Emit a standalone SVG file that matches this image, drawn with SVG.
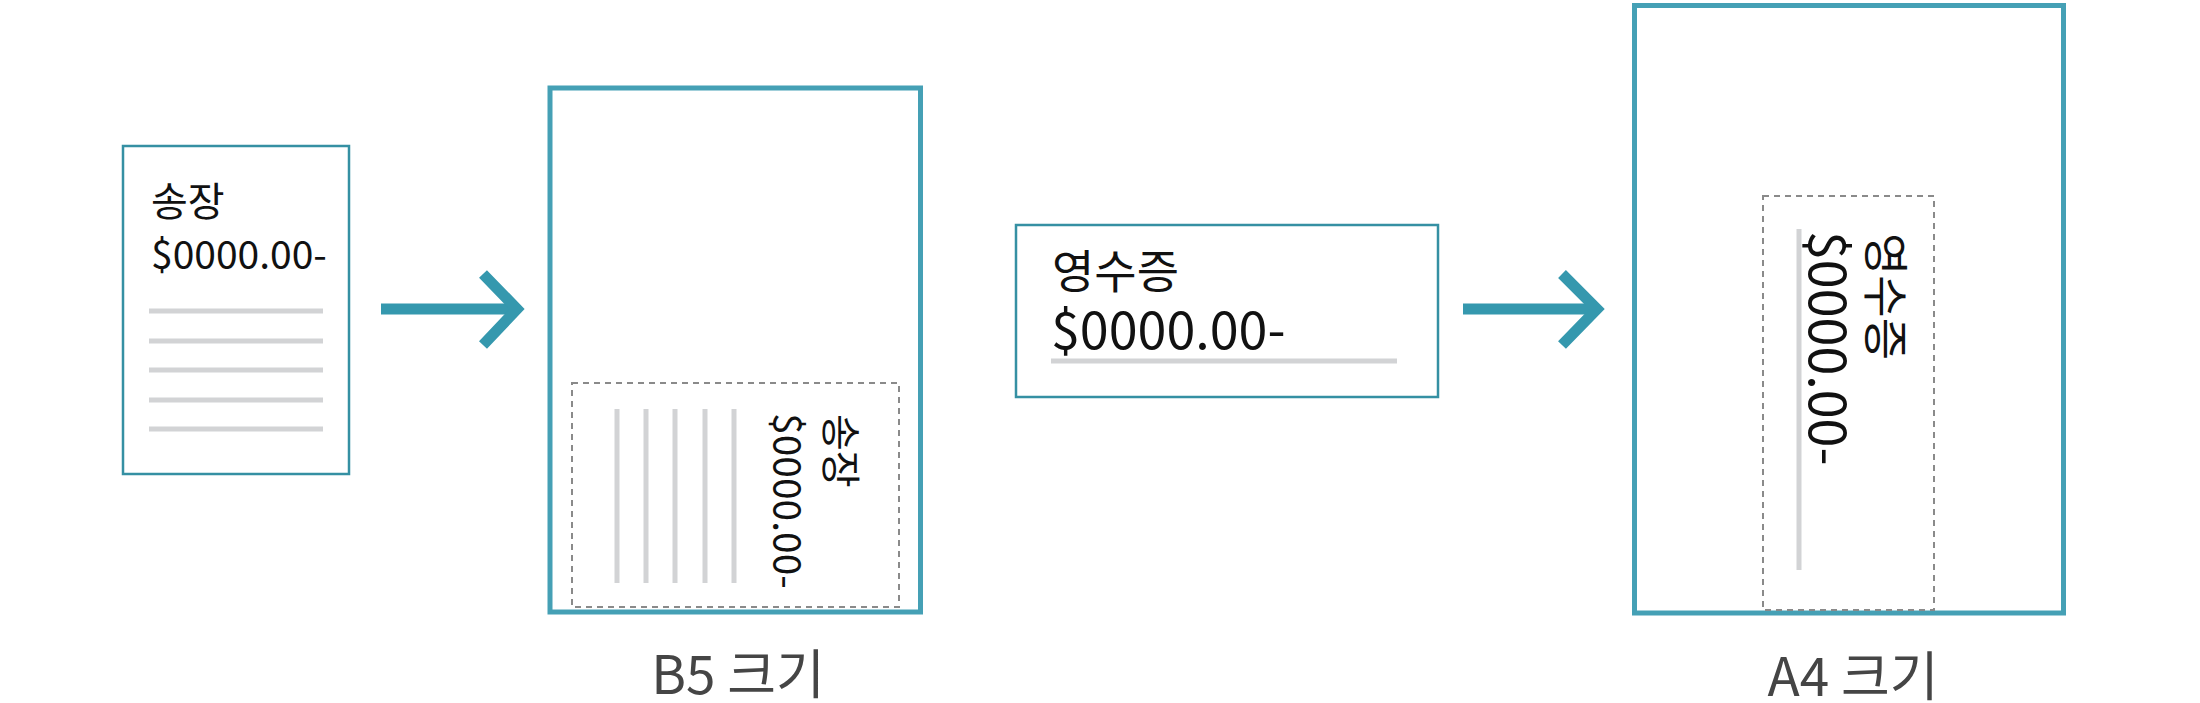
<svg xmlns="http://www.w3.org/2000/svg" width="2200" height="703" viewBox="0 0 2200 703">
<style>
.t{font-family:"Noto Sans CJK KR","Noto Sans",sans-serif;fill:#111}
.lbl{font-family:"Noto Sans CJK KR","Noto Sans",sans-serif;fill:#454545;font-size:53px;text-anchor:middle}
.thin{fill:#fff;stroke:#3590a3;stroke-width:2.5}
.thick{fill:#fff;stroke:#45a0b5;stroke-width:5}
.dash{fill:none;stroke:#8a8a8a;stroke-width:2;stroke-dasharray:6 5}
.gl{stroke:#d2d3d5;stroke-width:5;fill:none}
.arr{stroke:#3598ae;stroke-width:11;fill:none}
</style>
<g id="invoice">
<rect class="thin" x="123" y="146" width="226" height="328"/>
<text class="t" x="151" y="216" font-size="40">송장</text>
<text class="t" x="151" y="269" font-size="39">$0000.00-</text>
<path class="gl" d="M149 311H323M149 341H323M149 370H323M149 400H323M149 429H323"/>
</g>
<g id="b5">
<rect class="thick" x="550" y="88" width="370.5" height="524"/>
<rect class="dash" x="572" y="383" width="327" height="224"/>
<path class="gl" d="M617 409V583M646 409V583M675 409V583M705 409V583M734 409V583"/>
<text class="t" font-size="40" transform="translate(826 414) rotate(90)">송장</text>
<text class="t" font-size="39" transform="translate(773 413) rotate(90)">$0000.00-</text>
<text class="lbl" x="738" y="694">B5 크기</text>
</g>
<g id="receipt">
<rect class="thin" x="1016" y="225" width="422" height="172"/>
<text class="t" x="1052" y="288" font-size="46">영수증</text>
<text class="t" x="1051" y="349" font-size="52">$0000.00-</text>
<path class="gl" d="M1051 361H1397"/>
</g>
<g id="a4">
<rect class="thick" x="1634.5" y="5.5" width="429" height="607.5"/>
<rect class="dash" x="1763" y="196" width="171" height="414"/>
<path class="gl" d="M1799 229V570"/>
<text class="t" font-size="46" transform="translate(1869 233) rotate(90)">영수증</text>
<text class="t" font-size="52" transform="translate(1809 231) rotate(90)">$0000.00-</text>
<text class="lbl" x="1853" y="696">A4 크기</text>
</g>
<g id="connectors">
<path class="arr" d="M381 309H514"/>
<path class="arr" d="M483 274L517 309L483 345"/>
<path class="arr" d="M1463 309H1594"/>
<path class="arr" d="M1562 274L1597 309L1562 345"/>
</g>
</svg>
